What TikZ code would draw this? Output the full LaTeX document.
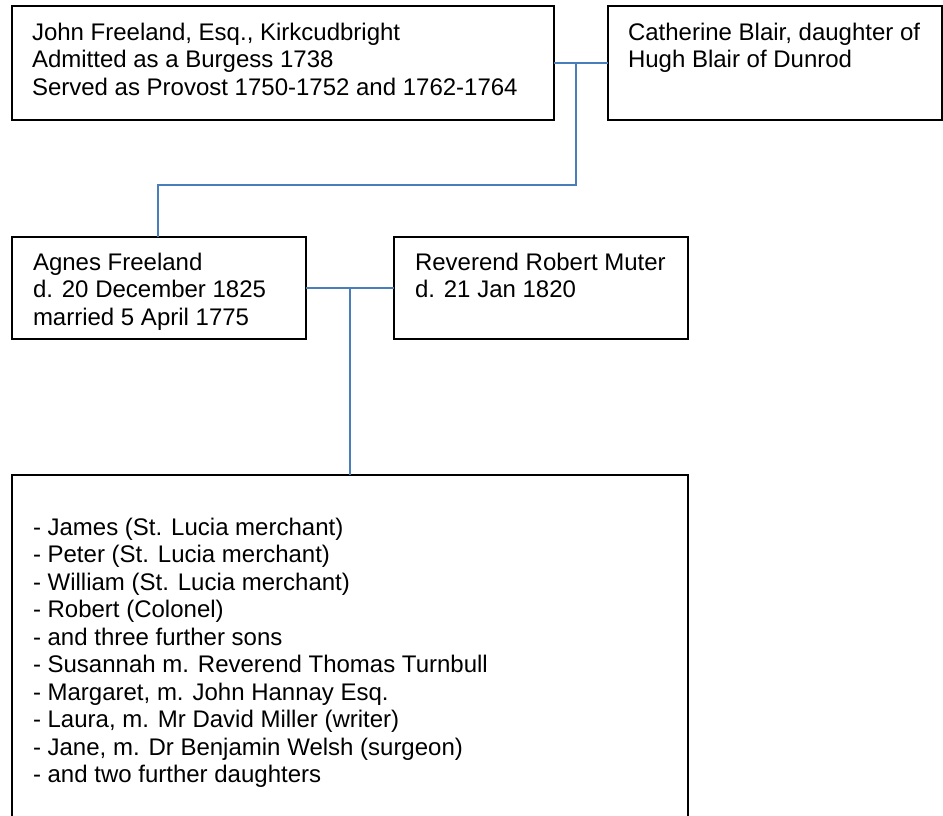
\documentclass[tikz,border=0pt]{standalone}
\usepackage{fontspec}
\setmainfont{Liberation Sans}
\begin{document}
\begin{tikzpicture}[x=1pt,y=-1pt,
  person/.style={draw=black,line width=1.8pt,fill=white,anchor=north west,
    inner sep=0pt,outer sep=0pt},
  entry/.style={anchor=base west,inner sep=0pt,outer sep=0pt,
    font=\fontsize{24}{27.5}\selectfont},
  link/.style={draw={rgb,255:red,74;green,126;blue,187},line width=1.4pt}]
% page frame
\clip (0,0) rectangle (943,815);
\fill[white] (0,0) rectangle (943,815);

% generation 1
\node[person,minimum width=542pt,minimum height=114pt] (john) at (12,6) {};
\node[person,minimum width=334pt,minimum height=114pt] (cath) at (608,6) {};
% generation 2
\node[person,minimum width=294pt,minimum height=102pt] (agnes) at (12,237) {};
\node[person,minimum width=294pt,minimum height=102pt] (robert) at (394,237) {};
% children (box runs off the bottom of the page)
\node[person,minimum width=676pt,minimum height=380pt] (kids) at (12,475) {};

% texts
\node[entry] (tjohn) at (32,40) {\parbox[t]{520pt}{\raggedright
  John Freeland, Esq., Kirkcudbright\\
  Admitted as a Burgess 1738\\
  Served as Provost 1750-1752 and 1762-1764}};
\node[entry] (tcath) at (628,40) {\parbox[t]{310pt}{\raggedright
  Catherine Blair, daughter of\\
  Hugh Blair of Dunrod}};
\node[entry] (tagnes) at (33,270) {\parbox[t]{270pt}{\raggedright
  Agnes Freeland\\
  d. 20 December 1825\\
  married 5 April 1775}};
\node[entry] (trobert) at (415,270) {\parbox[t]{270pt}{\raggedright
  Reverend Robert Muter\\
  d. 21 Jan 1820}};
\node[entry] (tkids) at (33,535) {\parbox[t]{640pt}{\raggedright
  - James (St. Lucia merchant)\\
  - Peter (St. Lucia merchant)\\
  - William (St. Lucia merchant)\\
  - Robert (Colonel)\\
  - and three further sons\\
  - Susannah m. Reverend Thomas Turnbull\\
  - Margaret, m. John Hannay Esq.\\
  - Laura, m. Mr David Miller (writer)\\
  - Jane, m. Dr Benjamin Welsh (surgeon)\\
  - and two further daughters}};

% connectors
\coordinate (m1) at (576,63);
\coordinate (m1low) at (576,185);
\coordinate (c1) at (158,185);
\coordinate (m2) at (350,288);
\draw[link] (john.east) -- (cath.west);
\draw[link] (m1) -- (m1low) -- (c1) -- (c1 |- agnes.north);
\draw[link] (agnes.east) -- (robert.west);
\draw[link] (m2) -- (m2 |- kids.north);
\end{tikzpicture}
\end{document}
